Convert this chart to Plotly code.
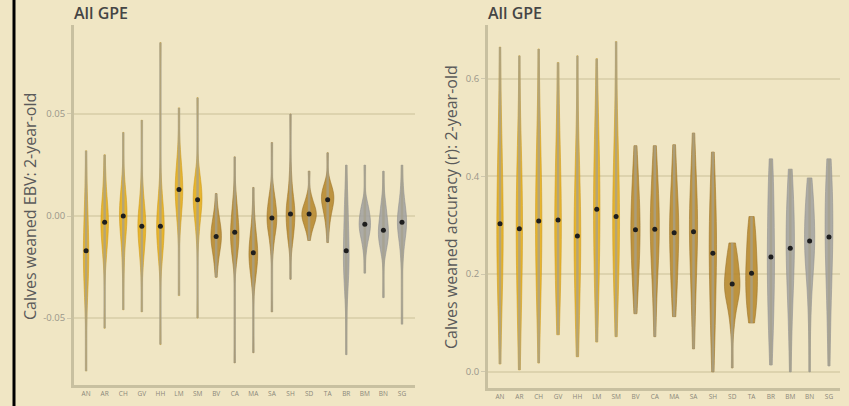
import numpy as np
import plotly.graph_objects as go

categories = ["AN", "AR", "CH", "GV", "HH", "LM", "SM", "BV", "CA", "MA",
              "SA", "SH", "SD", "TA", "BR", "BM", "BN", "SG"]
groups = ["Y"] * 7 + ["B"] * 7 + ["G"] * 4

# Left panel: Calves weaned EBV (summary points)
ebv_lo = [-0.076, -0.055, -0.046, -0.047, -0.063, -0.039, -0.050, -0.030, -0.072,
          -0.067, -0.047, -0.031, -0.012, -0.013, -0.068, -0.028, -0.040, -0.053]
ebv_p10 = [-0.042, -0.022, -0.025, -0.024, -0.023, -0.006, -0.010, -0.023, -0.022,
           -0.033, -0.016, -0.013, -0.007, -0.005, -0.038, -0.016, -0.018, -0.020]
ebv_q1 = [-0.030, -0.012, -0.010, -0.014, -0.014, 0.004, 0.000, -0.016, -0.015,
          -0.025, -0.007, -0.007, -0.003, 0.002, -0.027, -0.009, -0.012, -0.010]
ebv_med = [-0.017, -0.003, 0.000, -0.005, -0.005, 0.013, 0.008, -0.010, -0.008,
           -0.018, -0.001, 0.001, 0.001, 0.008, -0.017, -0.004, -0.007, -0.003]
ebv_q3 = [-0.002, 0.006, 0.008, 0.003, 0.004, 0.022, 0.015, -0.004, 0.001,
          -0.010, 0.006, 0.008, 0.005, 0.012, 0.000, 0.002, 0.001, 0.004]
ebv_p90 = [0.012, 0.018, 0.018, 0.014, 0.015, 0.032, 0.022, 0.002, 0.010,
           0.000, 0.012, 0.020, 0.010, 0.016, 0.010, 0.006, 0.008, 0.013]
ebv_hi = [0.032, 0.030, 0.041, 0.047, 0.085, 0.053, 0.058, 0.011, 0.029,
          0.014, 0.036, 0.050, 0.022, 0.031, 0.025, 0.025, 0.022, 0.025]

# Right panel: Calves weaned accuracy (r)
acc_lo = [0.016, 0.004, 0.018, 0.076, 0.031, 0.061, 0.072, 0.119, 0.072,
          0.113, 0.047, 0.000, 0.008, 0.100, 0.014, 0.000, 0.000, 0.012]
acc_p10 = [0.12, 0.08, 0.12, 0.13, 0.08, 0.14, 0.15, 0.16, 0.14,
           0.15, 0.11, 0.06, 0.10, 0.12, 0.07, 0.08, 0.12, 0.08]
acc_q1 = [0.20, 0.18, 0.20, 0.21, 0.18, 0.22, 0.22, 0.22, 0.22,
          0.21, 0.20, 0.14, 0.15, 0.15, 0.14, 0.17, 0.21, 0.18]
acc_med = [0.303, 0.293, 0.309, 0.311, 0.278, 0.333, 0.318, 0.291, 0.292,
           0.285, 0.287, 0.243, 0.180, 0.202, 0.235, 0.253, 0.268, 0.276]
acc_q3 = [0.42, 0.40, 0.42, 0.42, 0.38, 0.44, 0.42, 0.36, 0.36,
          0.35, 0.36, 0.33, 0.22, 0.26, 0.34, 0.33, 0.33, 0.36]
acc_p90 = [0.52, 0.49, 0.52, 0.52, 0.48, 0.53, 0.52, 0.42, 0.42,
           0.42, 0.43, 0.40, 0.25, 0.30, 0.40, 0.38, 0.37, 0.41]
acc_hi = [0.665, 0.647, 0.661, 0.633, 0.647, 0.641, 0.676, 0.463, 0.463,
          0.465, 0.489, 0.450, 0.264, 0.318, 0.436, 0.415, 0.397, 0.436]

FILL = {"Y": "rgba(228,170,20,0.85)", "B": "rgba(180,132,40,0.85)", "G": "rgba(160,160,160,0.85)"}
EDGE = {"Y": "rgba(205,150,20,0.9)", "B": "rgba(150,110,35,0.9)", "G": "rgba(140,140,140,0.9)"}
WEIGHTS = [1, 2, 4, 6, 4, 2, 1]

W, H = 849, 406
BG = "#F0E6C4"


def samples(stats):
    out = []
    for v, w in zip(stats, WEIGHTS):
        out += [v] * w
    return np.array(out, dtype=float)


def bw(x):
    sd = np.std(x, ddof=1)
    iqr = np.subtract(*np.percentile(x, [75, 25]))
    s = min(sd, iqr / 1.349) if iqr > 0 else sd
    return 1.059 * s * len(x) ** (-0.2)


def peak(x, h):
    grid = np.linspace(x.min(), x.max(), 400)
    d = np.exp(-0.5 * ((grid[:, None] - x[None, :]) / h) ** 2).sum(1) / (len(x) * h)
    return d.max()


fig = go.Figure()


def add_panel(stat_lists, xa, ya, maxw):
    lo, p10, q1, med, q3, p90, hi = stat_lists
    data = [samples([lo[i], p10[i], q1[i], med[i], q3[i], p90[i], hi[i]]) for i in range(len(categories))]
    bws = [bw(d) for d in data]
    peaks = [peak(d, h) for d, h in zip(data, bws)]
    pmax = max(peaks)
    for i, d in enumerate(data):
        g = groups[i]
        fig.add_trace(go.Scatter(x=[i, i], y=[lo[i], hi[i]], mode="lines",
                                 line=dict(color="rgba(165,160,140,0.75)", width=2.5),
                                 xaxis=xa, yaxis=ya, showlegend=False, hoverinfo="skip"))
        fig.add_trace(go.Violin(x=[i] * len(d), y=d, xaxis=xa, yaxis=ya,
                                width=maxw * (peaks[i] / pmax) ** 0.8,
                                bandwidth=bws[i], spanmode="hard", points=False,
                                fillcolor=FILL[g], line=dict(color=EDGE[g], width=0.6),
                                showlegend=False, name=categories[i]))
    fig.add_trace(go.Scatter(x=list(range(len(categories))), y=med, mode="markers",
                             marker=dict(color="#1e1e1e", size=5, symbol="circle"),
                             xaxis=xa, yaxis=ya, showlegend=False))


add_panel([ebv_lo, ebv_p10, ebv_q1, ebv_med, ebv_q3, ebv_p90, ebv_hi], "x", "y", 0.78)
add_panel([acc_lo, acc_p10, acc_q1, acc_med, acc_q3, acc_p90, acc_hi], "x2", "y2", 0.8)

axis_line = "#C8C0A0"
grid = "#DDD3AE"
tickfont = dict(family="Open Sans", size=9.5, color="#9a968a")
xtickfont = dict(family="Open Sans", size=6.5, color="#8a867a")

common_x = dict(tickmode="array", tickvals=list(range(len(categories))), ticktext=categories,
                tickfont=xtickfont, showgrid=False, zeroline=False, showline=True,
                linecolor=axis_line, linewidth=3, ticks="", fixedrange=True)
common_y = dict(showgrid=True, gridcolor=grid, gridwidth=1.5, zeroline=False, showline=True,
                linecolor=axis_line, linewidth=3, ticks="outside", ticklen=4,
                tickcolor="#cfc8ae", tickfont=tickfont)

fig.update_layout(
    width=W, height=H, paper_bgcolor=BG, plot_bgcolor=BG,
    margin=dict(l=0, r=0, t=0, b=0), violinmode="overlay", violingap=0,
    xaxis=dict(domain=[74 / W, 415 / W], range=[-0.65, 17.7], anchor="y", **common_x),
    yaxis=dict(domain=[1 - 385 / H, 1 - 25 / H], range=[-0.0828, 0.0936], anchor="x",
               tickvals=[-0.05, 0.0, 0.05], ticktext=["-0.05", "0.00", "0.05"], **common_y),
    xaxis2=dict(domain=[488 / W, 840 / W], range=[-0.62, 17.57], anchor="y2", **common_x),
    yaxis2=dict(domain=[1 - 388 / H, 1 - 25 / H], range=[-0.033, 0.710], anchor="x2",
                tickvals=[0.0, 0.2, 0.4, 0.6], ticktext=["0.0", "0.2", "0.4", "0.6"], **common_y),
    showlegend=False,
)

title_font = dict(family="Open Sans", size=16, color="#454545", weight=600)
ytitle_font = dict(family="Open Sans", size=16, color="#5a5a5a")
fig.add_annotation(text="All GPE", xref="paper", yref="paper", x=72 / W, y=1 - 13 / H,
                   xanchor="left", yanchor="middle", showarrow=False, font=title_font)
fig.add_annotation(text="All GPE", xref="paper", yref="paper", x=486 / W, y=1 - 13 / H,
                   xanchor="left", yanchor="middle", showarrow=False, font=title_font)
fig.add_annotation(text="Calves weaned EBV: 2-year-old", xref="paper", yref="paper",
                   x=30 / W, y=1 - 207 / H, textangle=-90, showarrow=False,
                   xanchor="center", yanchor="middle", font=ytitle_font)
fig.add_annotation(text="Calves weaned accuracy (r): 2-year-old", xref="paper", yref="paper",
                   x=451 / W, y=1 - 207 / H, textangle=-90, showarrow=False,
                   xanchor="center", yanchor="middle", font=ytitle_font)

# left black frame edge
fig.add_shape(type="line", xref="paper", yref="paper", x0=14 / W, x1=14 / W, y0=0, y1=1,
              line=dict(color="#000000", width=3))

fig.write_html("out.html", config={"displayModeBar": False},
               post_script="document.body.style.margin='0';document.body.style.background='%s';" % BG)
